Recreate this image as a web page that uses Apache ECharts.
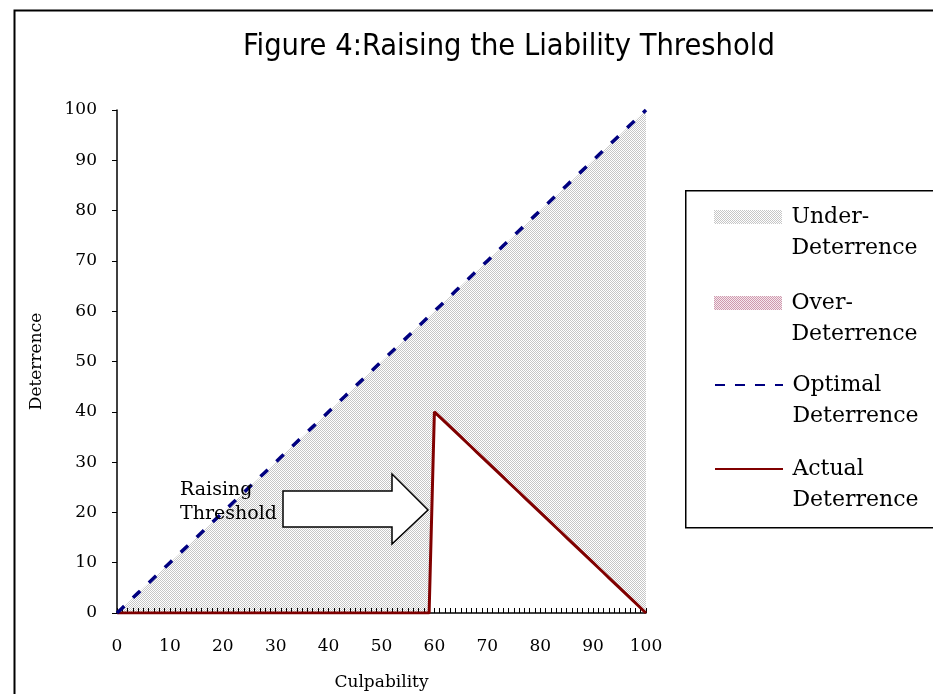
<!DOCTYPE html>
<html>
<head>
<meta charset="utf-8">
<script src="https://cdn.jsdelivr.net/npm/echarts@6/dist/echarts.min.js"></script>
<style>html,body{margin:0;padding:0;background:#fff;}#main{width:933px;height:694px;}</style>
</head>
<body>
<div id="main"></div>
<script>
// ---- data ----
var culpability = ['0','1','2','3','4','5','6','7','8','9','10','11','12','13','14','15','16','17','18','19','20','21','22','23','24','25','26','27','28','29','30','31','32','33','34','35','36','37','38','39','40','41','42','43','44','45','46','47','48','49','50','51','52','53','54','55','56','57','58','59','60','61','62','63','64','65','66','67','68','69','70','71','72','73','74','75','76','77','78','79','80','81','82','83','84','85','86','87','88','89','90','91','92','93','94','95','96','97','98','99','100'];
var optimalDeterrence = [0,1,2,3,4,5,6,7,8,9,10,11,12,13,14,15,16,17,18,19,20,21,22,23,24,25,26,27,28,29,30,31,32,33,34,35,36,37,38,39,40,41,42,43,44,45,46,47,48,49,50,51,52,53,54,55,56,57,58,59,60,61,62,63,64,65,66,67,68,69,70,71,72,73,74,75,76,77,78,79,80,81,82,83,84,85,86,87,88,89,90,91,92,93,94,95,96,97,98,99,100];
var actualDeterrence = [0,0,0,0,0,0,0,0,0,0,0,0,0,0,0,0,0,0,0,0,0,0,0,0,0,0,0,0,0,0,0,0,0,0,0,0,0,0,0,0,0,0,0,0,0,0,0,0,0,0,0,0,0,0,0,0,0,0,0,0,40,39,38,37,36,35,34,33,32,31,30,29,28,27,26,25,24,23,22,21,20,19,18,17,16,15,14,13,12,11,10,9,8,7,6,5,4,3,2,1,0];
var underDeterrence = [0,1,2,3,4,5,6,7,8,9,10,11,12,13,14,15,16,17,18,19,20,21,22,23,24,25,26,27,28,29,30,31,32,33,34,35,36,37,38,39,40,41,42,43,44,45,46,47,48,49,50,51,52,53,54,55,56,57,58,59,20,22,24,26,28,30,32,34,36,38,40,42,44,46,48,50,52,54,56,58,60,62,64,66,68,70,72,74,76,78,80,82,84,86,88,90,92,94,96,98,100];
var overDeterrence = [0,0,0,0,0,0,0,0,0,0,0,0,0,0,0,0,0,0,0,0,0,0,0,0,0,0,0,0,0,0,0,0,0,0,0,0,0,0,0,0,0,0,0,0,0,0,0,0,0,0,0,0,0,0,0,0,0,0,0,0,0,0,0,0,0,0,0,0,0,0,0,0,0,0,0,0,0,0,0,0,0,0,0,0,0,0,0,0,0,0,0,0,0,0,0,0,0,0,0,0,0];
var yTicks = [0,10,20,30,40,50,60,70,80,90,100];

function makePattern(c1, c2) {
  var cv = document.createElement('canvas');
  cv.width = 2; cv.height = 2;
  var ctx = cv.getContext('2d');
  ctx.fillStyle = c2; ctx.fillRect(0, 0, 2, 2);
  ctx.fillStyle = c1; ctx.fillRect(0, 0, 1, 1); ctx.fillRect(1, 1, 1, 1);
  return { image: cv, repeat: 'repeat' };
}
var grayPattern = makePattern('#c6c6c6', '#ffffff');
var pinkPattern = makePattern('#cf9aae', '#f6e8ee');

var serif = 'DejaVu Serif';
var legendText = { fontFamily: serif, fontSize: 22, color: '#000', lineHeight: 31 };
function mkLegend(name, top, extra) {
  var item = Object.assign({ name: name }, extra || {});
  return {
    left: 714, top: top, padding: 0, itemWidth: 68, itemHeight: 14,
    selectedMode: false, data: [item], textStyle: legendText,
    formatter: function (n) { return '\u2009\n\u2009' + n.replace(' ', '\n\u2009'); }
  };
}

var chart = echarts.init(document.getElementById('main'), null, { renderer: 'canvas' });
chart.setOption({
  backgroundColor: '#fff',
  animation: false,
  title: {
    text: 'Figure 4:Raising the Liability Threshold',
    left: 238, top: 27,
    textStyle: { fontFamily: 'DejaVu Sans Condensed', fontWeight: 'normal', fontSize: 30.5, color: '#000' }
  },
  legend: [
    mkLegend('Under- Deterrence', 217 - 46.5, { icon: 'rect', itemStyle: { color: grayPattern, borderWidth: 0 } }),
    mkLegend('Over- Deterrence', 303 - 46.5, { icon: 'rect', itemStyle: { color: pinkPattern, borderWidth: 0 } }),
    mkLegend('Optimal Deterrence', 385 - 46.5, { itemStyle: { opacity: 0 }, lineStyle: { type: [10, 10] } }),
    mkLegend('Actual Deterrence', 469 - 46.5, { itemStyle: { opacity: 0 } })
  ],
  grid: { left: 117, right: 287, top: 110, bottom: 81, containLabel: false, outerBoundsMode: 'none' },
  xAxis: {
    type: 'category', data: culpability, boundaryGap: false, z: 6,
    name: 'Culpability', nameLocation: 'middle', nameGap: 61,
    nameTextStyle: { fontFamily: serif, fontSize: 17, color: '#000' },
    axisLine: { lineStyle: { color: '#000', width: 1.5 } },
    axisTick: { show: true, interval: 0, inside: true, length: 5, lineStyle: { color: '#000', width: 1 } },
    axisLabel: { interval: 9, margin: 25, fontFamily: serif, fontSize: 17, color: '#000' },
    splitLine: { show: false }
  },
  yAxis: {
    type: 'value', min: 0, max: 100, interval: 10,
    name: 'Deterrence', nameLocation: 'middle', nameGap: 72, nameRotate: 90,
    nameTextStyle: { fontFamily: serif, fontSize: 17, color: '#000' },
    axisLine: { show: true, lineStyle: { color: '#000', width: 1.5 } },
    axisTick: { show: true, inside: false, length: 5, lineStyle: { color: '#000' } },
    axisLabel: { margin: 20, fontFamily: serif, fontSize: 17, color: '#000',
      formatter: function (v) { return yTicks.indexOf(v) >= 0 ? String(v) : ''; } },
    splitLine: { show: false }
  },
  series: [
    {
      name: 'Actual Deterrence', type: 'line', data: actualDeterrence, stack: 'd',
      symbol: 'none', z: 7,
      lineStyle: { color: '#800000', width: 3 }, itemStyle: { color: '#800000' }
    },
    {
      name: 'Under- Deterrence', type: 'line', data: underDeterrence, stack: 'd',
      symbol: 'none', z: 1,
      lineStyle: { width: 0, opacity: 0 }, itemStyle: { color: grayPattern },
      areaStyle: { color: grayPattern, opacity: 1 }
    },
    {
      name: 'Over- Deterrence', type: 'line', data: overDeterrence, stack: 'd',
      symbol: 'none', z: 1,
      lineStyle: { width: 0, opacity: 0 }, itemStyle: { color: pinkPattern },
      areaStyle: { color: pinkPattern, opacity: 1 }
    },
    {
      name: 'Optimal Deterrence', type: 'line', data: optimalDeterrence,
      symbol: 'none', z: 7,
      lineStyle: { color: '#000080', width: 3.5, type: [10, 12] }, itemStyle: { color: '#000080' }
    }
  ],
  graphic: [
    { type: 'rect', left: 12, top: 8, z: -10, silent: true,
      shape: { width: 1000, height: 1000 }, style: { fill: 'none', stroke: '#000', lineWidth: 2 } },
    { type: 'rect', left: 685, top: 190, z: -5, silent: true,
      shape: { width: 300, height: 337 }, style: { fill: '#fff', stroke: '#000', lineWidth: 1.5 } },
    { type: 'polygon', z: 100, silent: true,
      shape: { points: [[283, 491], [392, 491], [392, 474], [428, 510], [392, 544], [392, 527], [283, 527]] },
      style: { fill: '#fff', stroke: '#000', lineWidth: 1.5 } },
    { type: 'text', z: 100, left: 180, top: 478, silent: true,
      style: { text: 'Raising\nThreshold', font: '19px "DejaVu Serif"', fill: '#000', lineHeight: 24 } }
  ]
});
</script>
</body>
</html>
